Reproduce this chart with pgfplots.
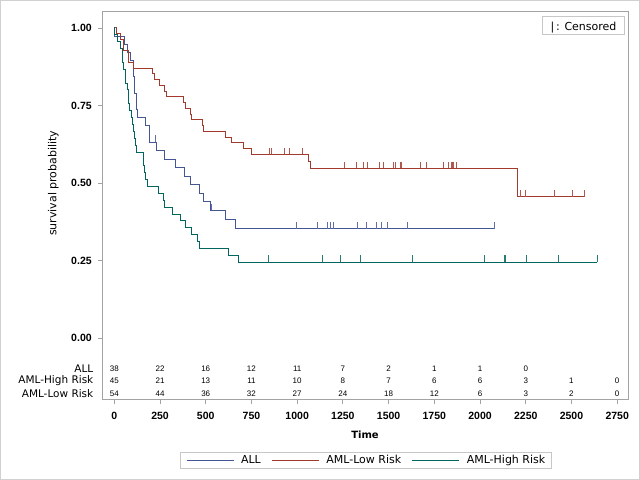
\documentclass[border=0pt]{standalone}
\usepackage{fontspec}
\setmainfont{DejaVu Sans}
\newfontfamily\numfont{Liberation Sans}
\usepackage{pgfplots}
\pgfplotsset{compat=1.18}
\definecolor{cAll}{HTML}{445694}
\definecolor{cLow}{HTML}{A23A2E}
\definecolor{cHigh}{HTML}{01665E}
\definecolor{frm}{HTML}{A3A3A3}
\pgfdeclareplotmark{cens}{\pgfpathmoveto{\pgfqpoint{0pt}{0pt}}\pgfpathlineto{\pgfqpoint{0pt}{6.8pt}}\pgfusepathqstroke}
\tikzset{ar/.style={font=\numfont\fontsize{8bp}{9bp}\selectfont, anchor=center, inner sep=0pt}}
\begin{document}
\begin{tikzpicture}[x=1bp,y=1bp]
\useasboundingbox (0,0) rectangle (640,480);
\draw[draw=black!18, line width=1bp] (0.5,0.5) rectangle (639.5,479.5);
\begin{axis}[
  at={(102.7bp,80.7bp)}, anchor=south west,
  scale only axis, width=525.3bp, height=388bp,
  xmin=-63.4, xmax=2809.2, ymin=-0.1977, ymax=1.0539,
  clip=false,
  axis line style={draw=frm, line width=0.8bp},
  tick style={draw=frm, line width=0.8bp},
  tick align=outside, tick pos=left, major tick length=5bp,
  xtick={0,250,500,750,1000,1250,1500,1750,2000,2250,2500,2750},
  xticklabels={0,250,500,750,1000,1250,1500,1750,2000,2250,2500,2750},
  ytick={0,0.25,0.5,0.75,1},
  yticklabels={0.00,0.25,0.50,0.75,1.00},
  xticklabel style={font=\numfont\bfseries\fontsize{10.5bp}{12bp}\selectfont, yshift=-4bp},
  yticklabel style={font=\numfont\bfseries\fontsize{10.5bp}{12bp}\selectfont, xshift=-2.5bp},
  xlabel={Time},
  xlabel style={at={(axis description cs:0.4993,-0.0902)}, anchor=center, font=\bfseries\fontsize{10bp}{12bp}\selectfont},
  ylabel={survival probability},
  ylabel style={at={(axis description cs:-0.094,0.5567)}, anchor=center, font=\fontsize{11bp}{13bp}\selectfont},
  legend columns=3,
  legend image code/.code={\draw[#1] (0bp,0bp) -- (47bp,0bp);},
  legend style={at={(axis description cs:0.5006,-0.1572)}, anchor=center,
    draw=black!22, line width=0.8bp, inner xsep=6bp, inner ysep=1bp,
    font=\fontsize{11bp}{13bp}\selectfont,
    nodes={inner xsep=0bp, inner ysep=2bp},
    /tikz/every odd column/.append style={column sep=7bp},
    /tikz/every even column/.append style={column sep=10.5bp}},
]
% ALL
\addplot[const plot, cAll, line width=1bp] coordinates {
(0,1) (1,0.973684) (55,0.947368) (74,0.921053) (86,0.894737) (104,0.868421)
(107,0.842105) (109,0.815789) (110,0.789474) (122,0.736842) (129,0.710526)
(172,0.684211) (192,0.657895) (194,0.631579) (230,0.604119) (276,0.576659)
(332,0.549199) (383,0.521739) (418,0.494279) (466,0.466819) (487,0.439359)
(526,0.411899) (609,0.382478) (662,0.353057) (2081,0.353057)};
\addlegendentry{ALL}
% AML-Low Risk
\addplot[const plot, cLow, line width=1bp] coordinates {
(0,1) (10,0.981481) (35,0.962963) (48,0.944444) (53,0.925926) (79,0.907407)
(80,0.888889) (105,0.870370) (211,0.851852) (219,0.833333) (248,0.814815)
(272,0.796296) (288,0.777778) (381,0.759259) (390,0.740741) (414,0.722222)
(421,0.703704) (481,0.685185) (486,0.666667) (606,0.648148) (641,0.629630)
(704,0.611111) (748,0.592593) (1063,0.569801) (1074,0.547009) (2204,0.455840)
(2569,0.455840)};
\addlegendentry{AML-Low Risk}
% AML-High Risk
\addplot[const plot, cHigh, line width=1bp] coordinates {
(0,1) (2,0.977778) (16,0.955556) (32,0.933333) (47,0.888889) (48,0.866667)
(63,0.844444) (64,0.822222) (74,0.8) (76,0.777778) (80,0.755556) (84,0.733333)
(93,0.711111) (100,0.688889) (105,0.666667) (113,0.644444) (115,0.622222)
(120,0.6) (157,0.577778) (162,0.555556) (164,0.533333) (168,0.511111)
(183,0.488889) (242,0.466667) (268,0.444444) (273,0.422222) (318,0.4)
(363,0.377778) (390,0.355556) (422,0.333333) (456,0.311111) (467,0.288889)
(625,0.266667) (677,0.244444) (2640,0.244444)};
\addlegendentry{AML-High Risk}
% censored marks
\addplot[only marks, mark=cens, draw=cAll!85, line width=0.8bp, forget plot] coordinates {
(226,0.631579) (530,0.411899) (996,0.353057) (1111,0.353057) (1167,0.353057)
(1182,0.353057) (1199,0.353057) (1330,0.353057) (1377,0.353057) (1433,0.353057)
(1462,0.353057) (1496,0.353057) (1602,0.353057) (2081,0.353057)};
\addplot[only marks, mark=cens, draw=cLow!85, line width=0.8bp, forget plot] coordinates {
(847,0.592593) (848,0.592593) (860,0.592593) (932,0.592593) (957,0.592593) (1030,0.592593)
(1258,0.547009) (1324,0.547009) (1363,0.547009) (1384,0.547009) (1447,0.547009)
(1470,0.547009) (1527,0.547009) (1535,0.547009) (1562,0.547009) (1568,0.547009)
(1674,0.547009) (1709,0.547009) (1799,0.547009) (1829,0.547009) (1843,0.547009)
(1850,0.547009) (1857,0.547009) (1870,0.547009)
(2218,0.455840) (2246,0.455840) (2409,0.455840) (2506,0.455840) (2569,0.455840)};
\addplot[only marks, mark=cens, draw=cHigh!85, line width=0.8bp, forget plot] coordinates {
(845,0.244444) (1136,0.244444) (1238,0.244444) (1345,0.244444) (1631,0.244444)
(2024,0.244444) (2133,0.244444) (2140,0.244444) (2252,0.244444) (2430,0.244444)
(2640,0.244444)};
% at-risk table
\node[ar] at (axis cs:0,-0.0977) {38};
\node[ar] at (axis cs:250,-0.0977) {22};
\node[ar] at (axis cs:500,-0.0977) {16};
\node[ar] at (axis cs:750,-0.0977) {12};
\node[ar] at (axis cs:1000,-0.0977) {11};
\node[ar] at (axis cs:1250,-0.0977) {7};
\node[ar] at (axis cs:1500,-0.0977) {2};
\node[ar] at (axis cs:1750,-0.0977) {1};
\node[ar] at (axis cs:2000,-0.0977) {1};
\node[ar] at (axis cs:2250,-0.0977) {0};
\node[ar] at (axis cs:0,-0.1387) {45};
\node[ar] at (axis cs:250,-0.1387) {21};
\node[ar] at (axis cs:500,-0.1387) {13};
\node[ar] at (axis cs:750,-0.1387) {11};
\node[ar] at (axis cs:1000,-0.1387) {10};
\node[ar] at (axis cs:1250,-0.1387) {8};
\node[ar] at (axis cs:1500,-0.1387) {7};
\node[ar] at (axis cs:1750,-0.1387) {6};
\node[ar] at (axis cs:2000,-0.1387) {6};
\node[ar] at (axis cs:2250,-0.1387) {3};
\node[ar] at (axis cs:2500,-0.1387) {1};
\node[ar] at (axis cs:2750,-0.1387) {0};
\node[ar] at (axis cs:0,-0.1797) {54};
\node[ar] at (axis cs:250,-0.1797) {44};
\node[ar] at (axis cs:500,-0.1797) {36};
\node[ar] at (axis cs:750,-0.1797) {32};
\node[ar] at (axis cs:1000,-0.1797) {27};
\node[ar] at (axis cs:1250,-0.1797) {24};
\node[ar] at (axis cs:1500,-0.1797) {18};
\node[ar] at (axis cs:1750,-0.1797) {12};
\node[ar] at (axis cs:2000,-0.1797) {6};
\node[ar] at (axis cs:2250,-0.1797) {3};
\node[ar] at (axis cs:2500,-0.1797) {2};
\node[ar] at (axis cs:2750,-0.1797) {0};
\end{axis}
% row labels of the at-risk table
\node[anchor=east, inner sep=0pt, font=\fontsize{10.5bp}{12bp}\selectfont] at (93.5,111.7) {ALL};
\node[anchor=east, inner sep=0pt, font=\fontsize{10.5bp}{12bp}\selectfont] at (93.5,99) {AML-High Risk};
\node[anchor=east, inner sep=0pt, font=\fontsize{10.5bp}{12bp}\selectfont] at (93.5,86.3) {AML-Low Risk};
% censored inset legend
\draw[draw=black!22, line width=0.8bp] (542.3,464) rectangle (624.7,446);
\node[anchor=center, inner sep=0pt, font=\fontsize{11bp}{13bp}\selectfont] at (583.5,452.5) {|\,: Censored};
\end{tikzpicture}
\end{document}
